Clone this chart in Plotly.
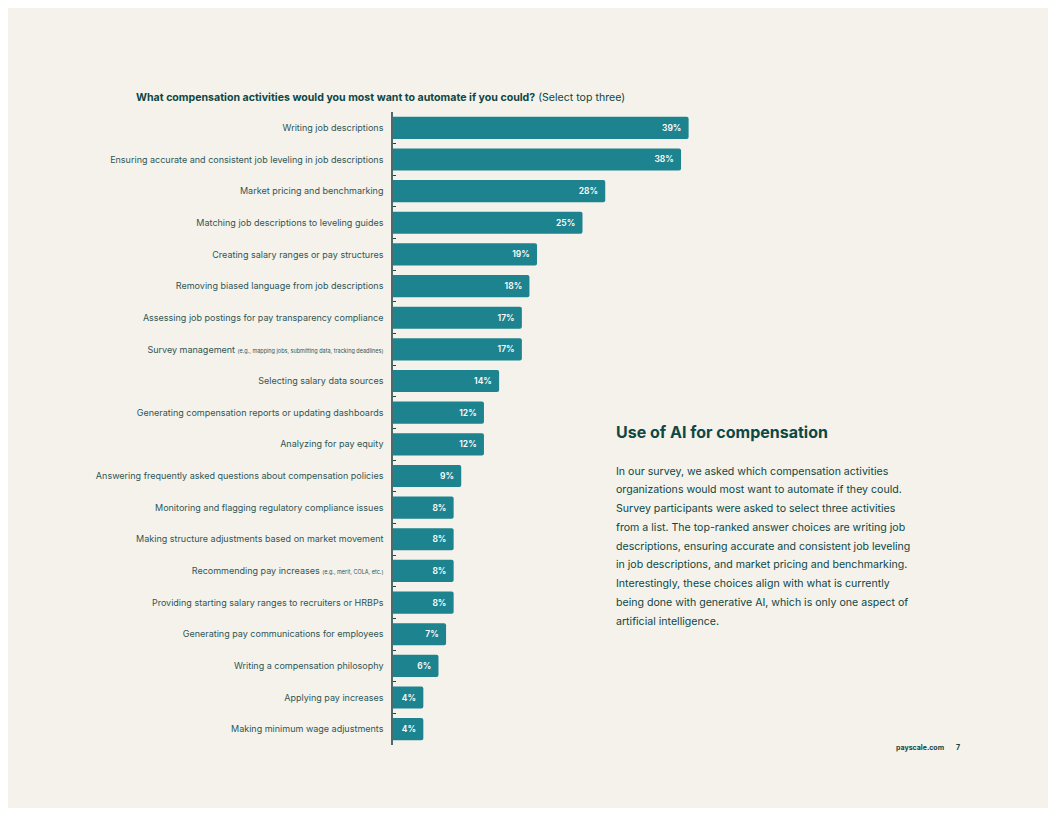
import plotly.graph_objects as go

activities = [
    "Writing job descriptions",
    "Ensuring accurate and consistent job leveling in job descriptions",
    "Market pricing and benchmarking",
    "Matching job descriptions to leveling guides",
    "Creating salary ranges or pay structures",
    "Removing biased language from job descriptions",
    "Assessing job postings for pay transparency compliance",
    "Survey management <span style='font-size:5.5px'>(e.g., mapping jobs, submitting data, tracking deadlines)</span>",
    "Selecting salary data sources",
    "Generating compensation reports or updating dashboards",
    "Analyzing for pay equity",
    "Answering frequently asked questions about compensation policies",
    "Monitoring and flagging regulatory compliance issues",
    "Making structure adjustments based on market movement",
    "Recommending pay increases <span style='font-size:5.5px'>(e.g., merit, COLA, etc.)</span>",
    "Providing starting salary ranges to recruiters or HRBPs",
    "Generating pay communications for employees",
    "Writing a compensation philosophy",
    "Applying pay increases",
    "Making minimum wage adjustments",
]
shares = [39, 38, 28, 25, 19, 18, 17, 17, 14, 12, 12, 9, 8, 8, 8, 8, 7, 6, 4, 4]

body_lines = [
    "In our survey, we asked which compensation activities",
    "organizations would most want to automate if they could.",
    "Survey participants were asked to select three activities",
    "from a list. The top-ranked answer choices are writing job",
    "descriptions, ensuring accurate and consistent job leveling",
    "in job descriptions, and market pricing and benchmarking.",
    "Interestingly, these choices align with what is currently",
    "being done with generative AI, which is only one aspect of",
    "artificial intelligence.",
]

BG = "#f5f2eb"
TEAL = "#1c838f"
DARK = "#0e4744"
LABEL = "#2f5655"

# the page adds an 8px body margin, so the figure is drawn 8px in
OFF = 8
W, H = 1040, 800
ML, MR, MT, MB = 385, 276, 104, 63

fig = go.Figure()

fig.add_trace(go.Bar(
    x=shares,
    y=activities,
    orientation="h",
    width=0.7,
    marker=dict(color=TEAL, line=dict(width=0), cornerradius=2),
    text=[f"{v}%\u2002" for v in shares],
    textposition="inside",
    insidetextanchor="end",
    textangle=0,
    textfont=dict(family="Inter", size=8.5, color="white", weight=600),
    hoverinfo="skip",
))


def px(x):
    return (x - OFF - ML) / (W - ML - MR)


def py(y):
    return 1 - (y - OFF - MT) / (H - MT - MB)


fig.add_annotation(
    xref="paper", yref="paper", x=px(134), y=py(97),
    text="<b>What compensation activities would you most want to automate if you could?</b> (Select top three)",
    showarrow=False, xanchor="left", yanchor="middle",
    font=dict(family="Inter", size=10.6, color=DARK),
)
fig.add_annotation(
    xref="paper", yref="paper", x=px(614), y=py(432),
    text="<b>Use of AI for compensation</b>",
    showarrow=False, xanchor="left", yanchor="middle",
    font=dict(family="Inter", size=16, color=DARK),
)
for i, line in enumerate(body_lines):
    fig.add_annotation(
        xref="paper", yref="paper", x=px(614), y=py(471 + i * 18.75),
        text=line,
        showarrow=False, xanchor="left", yanchor="middle", align="left",
        font=dict(family="Inter", size=10.6, color=DARK),
    )
fig.add_annotation(
    xref="paper", yref="paper", x=px(946), y=py(747),
    text="<b>payscale.com</b>",
    showarrow=False, xanchor="right", yanchor="middle",
    font=dict(family="Inter", size=7, color=DARK),
)
fig.add_annotation(
    xref="paper", yref="paper", x=px(962), y=py(747),
    text="<b>7</b>",
    showarrow=False, xanchor="right", yanchor="middle",
    font=dict(family="Inter", size=7, color=DARK),
)

fig.update_layout(
    width=W,
    height=H,
    margin=dict(l=ML, r=MR, t=MT, b=MB),
    paper_bgcolor=BG,
    plot_bgcolor=BG,
    showlegend=False,
    font=dict(family="Inter", color=LABEL),
    xaxis=dict(range=[0, 50], visible=False, fixedrange=True),
    yaxis=dict(
        autorange="reversed",
        showline=True,
        linecolor="#4d6b6a",
        linewidth=1.5,
        ticks="inside",
        ticklen=3,
        tickwidth=1,
        tickcolor="#2a3f3f",
        tickson="boundaries",
        ticklabelstandoff=6,
        tickfont=dict(family="Inter", size=9, color=LABEL),
        showgrid=False,
        zeroline=False,
    ),
)

fig.write_html("out.html")
